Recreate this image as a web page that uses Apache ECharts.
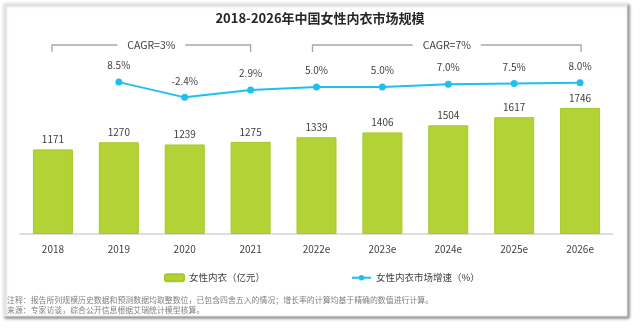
<!DOCTYPE html>
<html>
<head>
<meta charset="utf-8">
<style>html,body{margin:0;padding:0;background:#fff;}#main{width:640px;height:329px;}</style>
<script src="https://cdn.jsdelivr.net/npm/echarts@6/dist/echarts.min.js"></script>
</head>
<body>
<div id="main"></div>
<script>
const categories = ['2018','2019','2020','2021','2022e','2023e','2024e','2025e','2026e'];
const marketSize = [1171,1270,1239,1275,1339,1406,1504,1617,1746];
const growthRate = [null,8.5,-2.4,2.9,5.0,5.0,7.0,7.5,8.0];
const cagrLabels = ['CAGR=3%','CAGR=7%'];
const cagrRanges = [[0,3],[4,8]];
const barName = '女性内衣（亿元）';
const lineName = '女性内衣市场增速（%）';
const titleText = '2018-2026年中国女性内衣市场规模';
const noteLines = [
  '注释：报告所列规模历史数据和预测数据均取整数位，已包含四舍五入的情况；增长率的计算均基于精确的数值进行计算。',
  '来源：专家访谈，综合公开信息根据艾瑞统计模型核算。'
];

const FONT = '"Noto Sans CJK SC", "Noto Sans", sans-serif';
const chart = echarts.init(document.getElementById('main'), null, {renderer:'canvas'});

const baseGraphic = [
  {type:'rect', z:-10, silent:true,
   shape:{x:3,y:3,width:624,height:313},
   style:{fill:'#fff', stroke:'#ececec', lineWidth:1, shadowBlur:3, shadowOffsetX:2, shadowOffsetY:2, shadowColor:'rgba(0,0,0,0.45)'}},
  {type:'text', silent:true, x:7, y:300,
   style:{text:noteLines[0], fontSize:7.9, fill:'#808080', fontFamily:FONT, verticalAlign:'middle'}},
  {type:'text', silent:true, x:7, y:309.5,
   style:{text:noteLines[1], fontSize:7.9, fill:'#808080', fontFamily:FONT, verticalAlign:'middle'}}
];

const option = {
  backgroundColor:'#fff',
  animation:false,
  textStyle:{fontFamily:FONT},
  title:{text:titleText, left:'center', top:7,
    textStyle:{fontSize:13, fontWeight:'bold', color:'#262626', fontFamily:FONT}},
  legend:[
    {data:[barName], left:159, top:268, itemWidth:19, itemHeight:7, itemGap:0,
     textStyle:{fontSize:9.5, color:'#404040', fontFamily:FONT}},
    {data:[lineName], left:346, top:268, itemWidth:19, itemHeight:7, itemGap:0,
     textStyle:{fontSize:9.5, color:'#404040', fontFamily:FONT}}
  ],
  grid:{left:20, right:27, top:66, bottom:95, containLabel:false},
  xAxis:{type:'category', data:categories,
    axisLine:{lineStyle:{color:'#d4d4d4', width:1.5}},
    axisTick:{show:false},
    axisLabel:{fontSize:10, color:'#404040', margin:10, fontFamily:FONT}},
  yAxis:[
    {type:'value', min:0, max:2325, show:false, splitLine:{show:false}},
    {type:'value', min:-100, max:20, show:false, splitLine:{show:false}}
  ],
  series:[
    {name:barName, type:'bar', data:marketSize, barWidth:40, yAxisIndex:0,
     itemStyle:{color:'#b2d235', borderColor:'#a6c92a', borderWidth:1},
     label:{show:true, position:'top', distance:5, fontSize:10, color:'#404040', fontFamily:FONT}},
    {name:lineName, type:'line', data:growthRate, yAxisIndex:1,
     symbol:'circle', symbolSize:7, connectNulls:false,
     lineStyle:{color:'#1fbfee', width:2},
     itemStyle:{color:'#1fbfee'},
     label:{show:true, position:'top', distance:8, fontSize:10, color:'#404040', fontFamily:FONT,
       formatter:p => (p.value == null ? '' : Number(p.value).toFixed(1) + '%')}}
  ],
  graphic: baseGraphic
};
chart.setOption(option);

// CAGR brackets placed from category positions
const bracketY = 45, tickDown = 7, halfGap = 34;
const extra = [];
cagrRanges.forEach((r, i) => {
  const x1 = chart.convertToPixel({xAxisIndex:0}, r[0]) - (i === 0 ? 1 : 4);
  const x2 = chart.convertToPixel({xAxisIndex:0}, r[1]) + (i === 0 ? 0 : 1);
  const mid = (x1 + x2) / 2;
  const ls = {stroke:'#a6a6a6', lineWidth:1.3, fill:null};
  extra.push({type:'polyline', silent:true, shape:{points:[[x1,bracketY+tickDown],[x1,bracketY],[mid-halfGap,bracketY]]}, style:ls});
  extra.push({type:'polyline', silent:true, shape:{points:[[mid+halfGap,bracketY],[x2,bracketY],[x2,bracketY+tickDown]]}, style:ls});
  extra.push({type:'text', silent:true, x:mid, y:bracketY,
    style:{text:cagrLabels[i], fontSize:10.5, fill:'#404040', fontFamily:FONT, align:'center', verticalAlign:'middle'}});
});
chart.setOption({graphic: baseGraphic.concat(extra)});
</script>
</body>
</html>
